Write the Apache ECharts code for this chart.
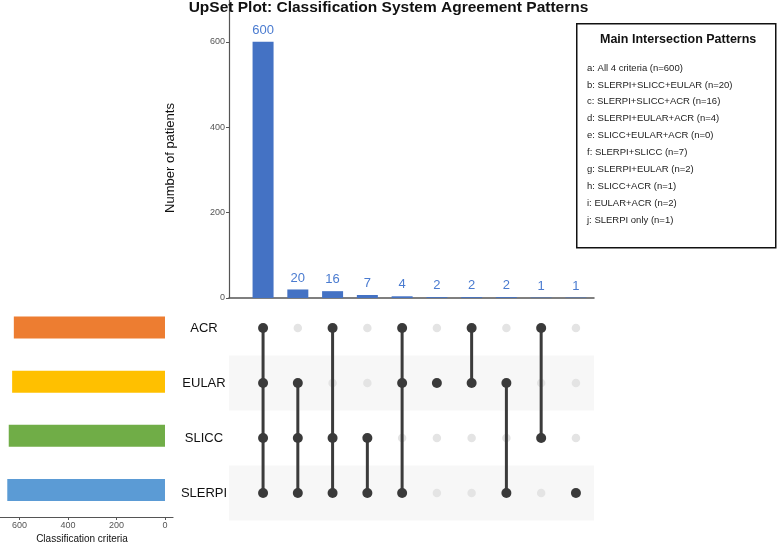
<!DOCTYPE html>
<html>
<head>
<meta charset="utf-8">
<script src="https://cdn.jsdelivr.net/npm/echarts@6/dist/echarts.min.js"></script>
<style>
  html, body { margin: 0; padding: 0; background: #fff; }
  #main { width: 777px; height: 545px; }
</style>
</head>
<body>
<div id="main"></div>
<script>
// sets, top to bottom in the matrix
var sets = ['ACR', 'EULAR', 'SLICC', 'SLERPI'];
var setSizes = [623, 630, 644, 650];
var setColors = ['#ED7D31', '#FFC000', '#70AD47', '#5B9BD5'];

// intersections shown as bars (left to right)
var intersections = [
    ['ACR', 'EULAR', 'SLICC', 'SLERPI'],
    ['EULAR', 'SLICC', 'SLERPI'],
    ['ACR', 'SLICC', 'SLERPI'],
    ['SLICC', 'SLERPI'],
    ['ACR', 'EULAR', 'SLERPI'],
    ['EULAR'],
    ['ACR', 'EULAR'],
    ['EULAR', 'SLERPI'],
    ['ACR', 'SLICC'],
    ['SLERPI']
];
var counts = [600, 20, 16, 7, 4, 2, 2, 2, 1, 1];

var countTicks = [0, 200, 400, 600];
var sizeTicks = [0, 200, 400, 600];

// legend box text
var legendKeys = ['a', 'b', 'c', 'd', 'e', 'f', 'g', 'h', 'i', 'j'];
var legendNames = ['All 4 criteria', 'SLERPI+SLICC+EULAR', 'SLERPI+SLICC+ACR', 'SLERPI+EULAR+ACR',
    'SLICC+EULAR+ACR', 'SLERPI+SLICC', 'SLERPI+EULAR', 'SLICC+ACR', 'EULAR+ACR', 'SLERPI only'];
var legendCounts = [600, 20, 16, 4, 0, 7, 2, 1, 2, 1];

var barData = counts.map(function (v, i) { return [i, v]; });

var dotsOn = [], dotsOff = [], links = [];
intersections.forEach(function (combo, i) {
    var rows = [];
    sets.forEach(function (s, r) {
        if (combo.indexOf(s) >= 0) { dotsOn.push([i, r]); rows.push(r); }
        else dotsOff.push([i, r]);
    });
    if (rows.length > 1) links.push([i, Math.min.apply(null, rows), Math.max.apply(null, rows)]);
});

var legendItems = legendKeys.map(function (k, i) {
    return {
        type: 'text',
        left: 587, top: 63 + i * 16.9,
        style: { text: k + ': ' + legendNames[i] + ' (n=' + legendCounts[i] + ')', font: '9.5px "Liberation Sans", Arial, sans-serif', fill: '#222' }
    };
});

var chart = echarts.init(document.getElementById('main'));
var font = '"Liberation Sans", Arial, sans-serif';

chart.setOption({
    animation: false,
    textStyle: { fontFamily: font },
    title: {
        text: 'UpSet Plot: Classification System Agreement Patterns',
        left: 'center', top: -5,
        textStyle: { fontSize: 15.5, fontWeight: 'bold', color: '#111', fontFamily: font }
    },
    grid: [
        { left: 229, top: 0, width: 365, height: 298 },
        { left: 229, top: 300.5, width: 365, height: 220 },
        { left: 0, top: 300.5, width: 173, height: 220 }
    ],
    xAxis: [
        { gridIndex: 0, type: 'value', min: -0.98, max: 9.52,
          axisLine: { show: true, onZero: false, lineStyle: { color: '#555', width: 1.5 } },
          axisTick: { show: false }, axisLabel: { show: false }, splitLine: { show: false } },
        { gridIndex: 1, type: 'value', min: -0.98, max: 9.52, show: false },
        { gridIndex: 2, type: 'value', inverse: true, min: -33, max: 680,
          axisLine: { show: true, onZero: false, lineStyle: { color: '#555', width: 1.2 } },
          axisTick: { show: true, length: 3, customValues: sizeTicks, lineStyle: { color: '#555' } },
          axisLabel: { customValues: sizeTicks, fontSize: 9, color: '#555', margin: 4 },
          splitLine: { show: false },
          name: 'Classification criteria', nameLocation: 'middle', nameGap: 17,
          nameTextStyle: { fontSize: 10, color: '#111', padding: [0, 9, 0, 0] } }
    ],
    yAxis: [
        { gridIndex: 0, type: 'value', min: 0, max: 698,
          axisLine: { show: true, onZero: false, lineStyle: { color: '#555', width: 1.2 } },
          axisTick: { show: true, length: 3, customValues: countTicks, lineStyle: { color: '#555' } },
          axisLabel: { customValues: countTicks, fontSize: 9, color: '#555', margin: 4 },
          splitLine: { show: false },
          name: 'Number of patients', nameLocation: 'middle', nameGap: 52,
          nameTextStyle: { fontSize: 13, color: '#111', padding: [0, 18, 0, 0] } },
        { gridIndex: 1, type: 'category', data: sets, inverse: true,
          axisLine: { show: false }, axisTick: { show: false },
          axisLabel: { fontSize: 13, color: '#111', align: 'center', margin: 25 },
          splitArea: { show: true, areaStyle: { color: ['rgba(255,255,255,0)', '#f7f7f7'] } } },
        { gridIndex: 2, type: 'category', data: sets, inverse: true, show: false }
    ],
    series: [
        { type: 'bar', xAxisIndex: 0, yAxisIndex: 0, data: barData, barWidth: 21,
          itemStyle: { color: '#4472C4' },
          label: { show: true, position: 'top', distance: 5, fontSize: 13, color: '#4a7bd0' } },
        { type: 'custom', xAxisIndex: 1, yAxisIndex: 1, data: links, z: 2,
          renderItem: function (params, api) {
              var p1 = api.coord([api.value(0), api.value(1)]);
              var p2 = api.coord([api.value(0), api.value(2)]);
              return { type: 'line', shape: { x1: p1[0], y1: p1[1], x2: p2[0], y2: p2[1] },
                       style: { stroke: '#3b3b3b', lineWidth: 3 } };
          } },
        { type: 'scatter', xAxisIndex: 1, yAxisIndex: 1, data: dotsOff, symbolSize: 8.5, z: 1,
          itemStyle: { color: '#e4e4e4', opacity: 1 } },
        { type: 'scatter', xAxisIndex: 1, yAxisIndex: 1, data: dotsOn, symbolSize: 10, z: 3,
          itemStyle: { color: '#3a3a3a', opacity: 1 } },
        { type: 'bar', xAxisIndex: 2, yAxisIndex: 2, data: setSizes, barWidth: 22,
          itemStyle: { color: function (p) { return setColors[p.dataIndex]; } } }
    ],
    graphic: [
        { type: 'rect', left: 576, top: 23, shape: { width: 199, height: 224 },
          style: { fill: '#fff', stroke: '#111', lineWidth: 1.5 } },
        { type: 'text', left: 600, top: 33,
          style: { text: 'Main Intersection Patterns', font: 'bold 12.5px "Liberation Sans", Arial, sans-serif', fill: '#111' } }
    ].concat(legendItems)
});
</script>
</body>
</html>
